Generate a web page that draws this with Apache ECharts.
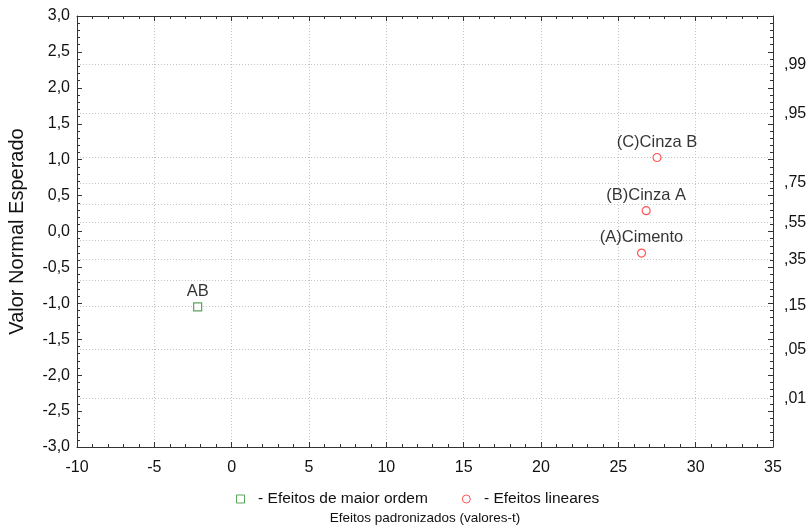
<!DOCTYPE html>
<html>
    <head>
        <meta charset="utf-8">
        <title>Efeitos padronizados</title>
        <style>
            body{
                margin:0;
                background-color:#FFFFFF;
            }
            #main{
                width:808px;
                height:528px;
            }
        </style>
    </head>
    <body>
        <div id="main"></div>

        <script src="https://cdn.jsdelivr.net/npm/echarts@6/dist/echarts.min.js"></script>

        <script>
            // dados
            var interacaoNomes = ["AB"];
            var interacaoX = [-2.2];
            var interacaoY = [-1.05];

            var linearNomes = ["(A)Cimento", "(B)Cinza A", "(C)Cinza B"];
            var linearX = [26.5, 26.8, 27.5];
            var linearY = [-0.30, 0.29, 1.03];

            // eixo da direita (probabilidade)
            var probGrade = [2.326, 1.645, 1.036, 0.674, 0.385, 0.126, -0.126, -0.385, -0.674, -1.036, -1.645, -2.326];
            var probValores = [2.326, 1.645, 0.674, 0.126, -0.385, -1.036, -1.645, -2.326];
            var probTextos = [",99", ",95", ",75", ",55", ",35", ",15", ",05", ",01"];

            var fonte = "Liberation Sans";
            var corTexto = "#111111";
            var corEixo = "#333333";

            function pontos(xs, ys, nomes){
                var lista = [];
                for(var i = 0; i < xs.length; i++){
                    lista.push({value:[xs[i], ys[i]], name:nomes[i]});
                }
                return lista;
            }

            var myChart = echarts.init(document.getElementById('main'));

            var eixoLinha = {show:true, onZero:false, lineStyle:{color:corEixo, width:1}};
            var tick = {show:true, inside:true, length:5, lineStyle:{color:corEixo}};
            var minor = {show:true, splitNumber:5, length:3, lineStyle:{color:corEixo}};
            var grade = {show:true, lineStyle:{color:'#c4c4c4', type:[1,2], width:1}};

            var option = {
                animation:false,
                textStyle:{fontFamily:fonte},
                grid:{left:77, right:35, top:16, bottom:81, outerBoundsMode:'none', containLabel:false},
                legend:{
                    top:486,
                    left:231,
                    itemWidth:8,
                    itemHeight:8,
                    itemGap:34,
                    textStyle:{fontSize:15.5, color:corTexto, fontFamily:fonte},
                    formatter:function(n){ return "  - " + n; },
                    data:[
                        {name:'Efeitos de maior ordem', icon:'rect', itemStyle:{color:'#ffffff', borderColor:'#2f8f2f', borderWidth:1}},
                        {name:'Efeitos lineares', icon:'circle', itemStyle:{color:'#ffffff', borderColor:'#ff2a2a', borderWidth:1}}
                    ]
                },
                xAxis:[{
                    type:'value',
                    min:-10, max:35, interval:5,
                    name:'Efeitos padronizados (valores-t)',
                    nameLocation:'middle',
                    nameGap:64,
                    nameTextStyle:{fontSize:13.5, color:corTexto},
                    axisLine:eixoLinha,
                    axisTick:tick,
                    minorTick:minor,
                    axisLabel:{fontSize:16, color:corTexto, margin:13},
                    splitLine:grade
                },{
                    type:'value',
                    position:'top',
                    min:-10, max:35, interval:5,
                    axisLine:eixoLinha,
                    axisTick:tick,
                    minorTick:minor,
                    axisLabel:{show:false},
                    splitLine:{show:false}
                }],
                yAxis:[{
                    type:'value',
                    min:-3, max:3, interval:0.5,
                    name:'Valor Normal Esperado',
                    nameLocation:'middle',
                    nameGap:50,
                    nameTextStyle:{fontSize:20, color:corTexto},
                    axisLine:eixoLinha,
                    axisTick:tick,
                    minorTick:minor,
                    axisLabel:{fontSize:16, color:corTexto, margin:7,
                        formatter:function(v){ return v.toFixed(1).replace('.', ','); }},
                    splitLine:{show:false}
                },{
                    type:'value',
                    position:'right',
                    min:-3, max:3, interval:0.5,
                    axisLine:eixoLinha,
                    axisTick:tick,
                    minorTick:minor,
                    axisLabel:{show:false},
                    splitLine:{show:false}
                },{
                    type:'value',
                    position:'right',
                    min:-3, max:3,
                    axisLine:{show:false, onZero:false},
                    axisTick:{show:false, customValues:probGrade},
                    axisLabel:{fontSize:16, color:corTexto, margin:11,
                        customValues:probValores,
                        formatter:function(v){
                            for(var i = 0; i < probValores.length; i++){
                                if(Math.abs(probValores[i] - v) < 1e-6){ return probTextos[i]; }
                            }
                            return '';
                        }},
                    splitLine:grade
                }],
                series:[{
                    name:'Efeitos de maior ordem',
                    type:'scatter',
                    symbol:'rect',
                    symbolSize:8,
                    itemStyle:{color:'#ffffff', borderColor:'#2f8f2f', borderWidth:1.2},
                    label:{show:true, position:'top', distance:2, fontSize:16.5, color:'#000000',
                        formatter:function(p){ return p.name; }},
                    data:pontos(interacaoX, interacaoY, interacaoNomes)
                },{
                    name:'Efeitos lineares',
                    type:'scatter',
                    symbol:'circle',
                    symbolSize:8,
                    itemStyle:{color:'#ffffff', borderColor:'#ff2a2a', borderWidth:1.2},
                    label:{show:true, position:'top', distance:2, fontSize:16.5, color:'#000000',
                        formatter:function(p){ return p.name; }},
                    data:pontos(linearX, linearY, linearNomes)
                }]
            };

            myChart.setOption(option);
        </script>
    </body>
</html>
